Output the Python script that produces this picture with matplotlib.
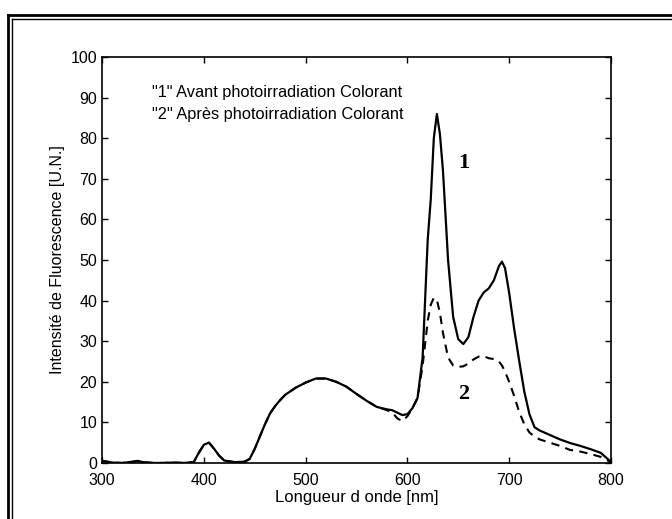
import matplotlib
matplotlib.use("Agg")
import matplotlib.pyplot as plt
from matplotlib.lines import Line2D

plt.rcParams['font.family'] = ['Liberation Sans', 'DejaVu Sans']

# wavelength grid (nm)
wavelength = [300, 305, 310, 320, 330, 335, 340, 350, 360, 370, 380, 390, 395,
              400, 405, 410, 415, 420, 430, 440, 445, 450, 455, 460, 465, 470,
              475, 480, 490, 500, 510, 520, 530, 540, 550, 560, 570, 580, 585,
              590, 595, 600, 605, 610, 615, 620, 623, 626, 629, 632, 635, 640,
              645, 650, 655, 660, 665, 670, 675, 680, 685, 690, 693, 696, 700,
              705, 710, 715, 720, 725, 730, 740, 750, 760, 770, 780, 790, 800]

# "1" avant photoirradiation
avant = [0.5, 0.3, 0.1, 0.0, 0.3, 0.5, 0.2, 0.0, 0.0, 0.1, 0.0, 0.2, 2.5,
         4.5, 5.0, 3.5, 1.8, 0.6, 0.2, 0.3, 1.0, 3.5, 6.5, 9.5, 12.2, 14.0,
         15.5, 16.8, 18.5, 19.8, 20.8, 20.8, 20.0, 18.8, 17.0, 15.3, 13.8, 13.2, 13.0,
         12.4, 11.8, 12.0, 13.5, 16.0, 26.0, 55.0, 65.0, 80.0, 86.0, 81.0, 72.0, 50.0,
         36.0, 30.5, 29.3, 31.0, 36.0, 40.0, 42.0, 43.0, 45.0, 48.5, 49.6, 48.0, 42.0,
         33.0, 25.0, 17.5, 12.0, 8.8, 8.0, 6.9, 5.8, 4.9, 4.2, 3.4, 2.5, 0.3]

# "2" apres photoirradiation
apres = [0.5, 0.3, 0.1, 0.0, 0.3, 0.5, 0.2, 0.0, 0.0, 0.1, 0.0, 0.2, 2.5,
         4.5, 5.0, 3.5, 1.8, 0.6, 0.2, 0.3, 1.0, 3.5, 6.5, 9.5, 12.2, 14.0,
         15.5, 16.8, 18.5, 19.8, 20.8, 20.8, 20.0, 18.8, 17.0, 15.3, 13.8, 13.0, 12.5,
         11.0, 10.3, 11.5, 13.5, 16.0, 24.0, 35.0, 39.0, 40.7, 40.2, 37.0, 32.0, 26.0,
         24.0, 23.7, 23.8, 24.5, 25.5, 26.2, 26.3, 25.8, 25.6, 25.0, 24.0, 22.5, 20.0,
         16.5, 12.5, 9.5, 7.5, 6.5, 5.8, 5.0, 4.2, 3.2, 2.8, 2.2, 1.5, 0.2]

x_ticks = [300, 400, 500, 600, 700, 800]
y_ticks = list(range(0, 101, 10))

fig = plt.figure(figsize=(6.72, 5.19), dpi=100)
ax = fig.add_axes([0.152, 0.108, 0.757, 0.782])

ax.plot(wavelength, avant, color='black', lw=1.6)
ax.plot(wavelength, apres, color='black', lw=1.5, linestyle=(0, (4, 3)))

ax.set_xlim(300, 800)
ax.set_ylim(0, 100)
ax.set_xticks(x_ticks)
ax.set_yticks(y_ticks)
ax.tick_params(direction='in', top=True, right=True, length=4, labelsize=11.5,
               width=1)
ax.tick_params(axis='x', pad=7)
for s in ax.spines.values():
    s.set_linewidth(1.2)

ax.set_xlabel("Longueur d onde [nm]", fontsize=12, labelpad=2)
ax.set_ylabel("Intensité de Fluorescence [U.N.]", fontsize=11.5)

ax.text(0.098, 0.912, '"1" Avant photoirradiation Colorant',
        transform=ax.transAxes, fontsize=11.8, va='center')
ax.text(0.098, 0.859, '"2" Après photoirradiation Colorant',
        transform=ax.transAxes, fontsize=11.8, va='center')

ax.text(655, 74, "1", family='Liberation Serif', fontsize=16,
        fontweight='bold', ha='center', va='center')
ax.text(655, 17, "2", family='Liberation Serif', fontsize=16,
        fontweight='bold', ha='center', va='center')

# double frame of the scanned figure
W, H = 672.0, 519.0
for xp, lw in [(8, 2.0), (12, 1.0)]:
    fig.add_artist(Line2D([xp / W, xp / W], [0, 1 - (15 if lw > 1.5 else 19) / H],
                          color='black', lw=lw, transform=fig.transFigure))
for yp, lw in [(15, 2.0), (19, 1.0)]:
    fig.add_artist(Line2D([(8 if lw > 1.5 else 12) / W, 1], [1 - yp / H, 1 - yp / H],
                          color='black', lw=lw, transform=fig.transFigure))

fig.savefig("out.png", dpi=100)
